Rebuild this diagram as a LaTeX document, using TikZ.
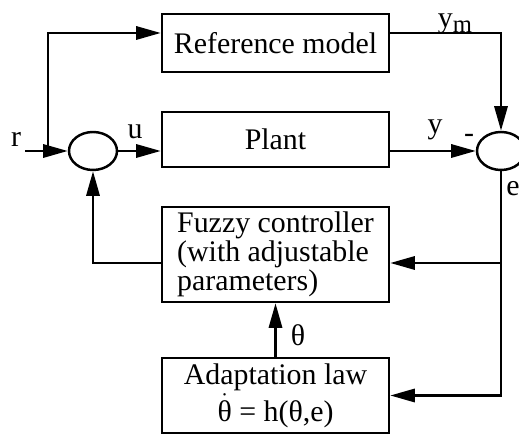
\documentclass[tikz,border=0pt]{standalone}
\usepackage{fontspec}
\setmainfont{Liberation Serif}
\usetikzlibrary{arrows.meta,shapes.geometric}
\tikzset{
  blk/.style={draw,line width=1.4pt,minimum width=45.4mm,inner sep=0pt},
  sumnode/.style={draw,ellipse,line width=1.4pt,minimum width=9.6mm,minimum height=7.6mm,inner sep=0pt},
  arr/.style={line width=1.5pt,-{Triangle[length=14pt,width=7.5pt]}}
}
\begin{document}
\begin{tikzpicture}[font=\fontsize{17}{16.5}\selectfont,x=0.2mm,y=0.2mm]
\useasboundingbox (0,0) rectangle (519,437);

\node[blk,minimum height=11.6mm] (ref) at (275.5,394) {Reference model};
\node[blk,minimum height=11mm] (plant) at (275.5,297.5) {Plant};
\node[blk,minimum height=19mm,align=left] (fuzzy) at (275.5,182.5) {Fuzzy controller\\(with adjustable\\parameters)};
\node[blk,minimum height=15mm,align=center] (adapt) at (275.5,41.5) {Adaptation law\\[4.5pt]\smash{\ensuremath{\dot{\mbox{θ}}}} = h(θ,e)};
\node[sumnode] (sumL) at (93,286) {};
\node[sumnode] (sumR) at (501,286) {};

\coordinate (rin) at (25,286);
\coordinate (split) at (48,286);
\coordinate (fzin) at ([yshift=-1.7mm]fuzzy.east);
\coordinate (fzout) at ([yshift=-1.7mm]fuzzy.west);

% forward path
\draw[arr] (rin) -- (sumL.west);
\draw[arr] (split) |- ([yshift=2mm]ref.west);
\draw[arr] (sumL.east) -- (sumL.east -| plant.west);
\draw[arr] ([yshift=2mm]ref.east) -| (sumR.north);
\draw[arr] (sumR.west -| plant.east) -- (sumR.west);

% error and adaptation
\draw[arr] (sumR.south) |- (adapt.east);
\draw[arr] (fzin -| sumR.south) -- (fzin);
\draw[arr] (adapt.north) -- (fuzzy.south);
\draw[arr] (fzout) -| (sumL.south);

\node (rlab) at (16,298) {r};
\node (ulab) at (135,305) {u};
\node (ymlab) at (455,413) {y\raisebox{-0.35ex}{\fontsize{14}{14}\selectfont m}};
\node (ylab) at (435,307) {y};
\node (minus) at (469,299) {-};
\node (elab) at (513,248) {e};
\node (thlab) at (298,102) {θ};

\end{tikzpicture}
\end{document}
